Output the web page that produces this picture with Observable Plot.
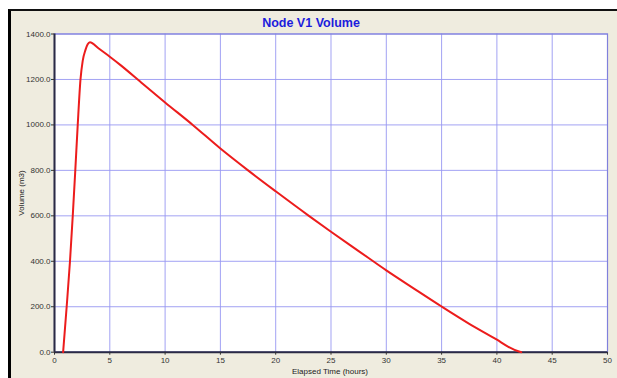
<!DOCTYPE html>
<html>
<head>
<meta charset="utf-8">
<script src="https://cdn.jsdelivr.net/npm/d3@7"></script>
<script src="https://cdn.jsdelivr.net/npm/@observablehq/plot@0.6"></script>
<style>
  html, body { margin: 0; padding: 0; background: #ffffff; }
  #wrap { position: relative; width: 617px; height: 378px; overflow: hidden; }
  #frame { position: absolute; left: 8px; top: 9px; right: 0; bottom: 0;
           background: #efecdf; border-left: 3px solid #000; border-top: 2px solid #111; }
  #chart { position: absolute; left: 0; top: 0; }
  .lbl { position: absolute; font-family: "Liberation Sans", Arial, sans-serif; white-space: nowrap; }
  #title { left: 311px; top: 23px; transform: translate(-50%, -50%); font-size: 12.5px; font-weight: bold; color: #1c1cdc; }
  #xlabel { left: 330px; top: 371px; transform: translate(-50%, -50%); font-size: 8px; color: #222; }
  #ylabel { left: 21px; top: 193px; transform: translate(-50%, -50%) rotate(-90deg); font-size: 8px; color: #222; }
</style>
</head>
<body>
<div id="wrap">
  <div id="frame"></div>
  <div id="chart"></div>
  <div class="lbl" id="title">Node V1 Volume</div>
  <div class="lbl" id="xlabel">Elapsed Time (hours)</div>
  <div class="lbl" id="ylabel">Volume (m3)</div>
</div>
<script>
const timeHours = [0.78, 1.1, 1.4, 1.65, 1.88, 2.1, 2.35, 2.55, 2.8, 3.0, 3.2, 4, 5, 6, 8, 10, 12.5, 15, 17.5, 20, 23, 25, 27.5, 30, 32.5, 35, 37.5, 40, 41, 42, 42.2];
const volumeM3  = [0, 200, 400, 600, 800, 1000, 1200, 1282, 1330, 1355, 1364, 1336, 1300, 1262, 1180, 1099, 1000, 896, 800, 708, 600, 530, 445, 360, 280, 201, 125, 55, 25, 3, 0];
const xTicks = [0, 5, 10, 15, 20, 25, 30, 35, 40, 45, 50];
const yTicks = [0, 200, 400, 600, 800, 1000, 1200, 1400];

const data = timeHours.map((t, i) => ({t, v: volumeM3[i]}));

const chart = Plot.plot({
  width: 617,
  height: 378,
  marginLeft: 54,
  marginRight: 10,
  marginTop: 33.5,
  marginBottom: 26.3,
  style: {background: "transparent", fontFamily: "Liberation Sans, Arial, sans-serif", fontSize: "8px", color: "#333"},
  x: {domain: [0, 50]},
  y: {domain: [0, 1400]},
  marks: [
    Plot.frame({fill: "#ffffff", stroke: null}),
    Plot.gridX(xTicks, {stroke: "#9898f2", strokeOpacity: 0.9, strokeWidth: 1}),
    Plot.gridY(yTicks, {stroke: "#9898f2", strokeOpacity: 0.9, strokeWidth: 1}),
    Plot.frame({stroke: "#8080dc", strokeWidth: 1.2}),
    Plot.ruleX([0], {stroke: "#2a2a44", strokeWidth: 2}),
    Plot.ruleY([0], {stroke: "#2a2a44", strokeWidth: 2}),
    Plot.axisX({ticks: xTicks, tickSize: 3, tickPadding: 2, label: null, tickFormat: d => String(d)}),
    Plot.axisY({ticks: yTicks, tickSize: 3, tickPadding: 1, label: null, tickFormat: d => d.toFixed(1)}),
    Plot.line(data, {x: "t", y: "v", stroke: "#ec1c1c", strokeWidth: 2, curve: "monotone-x"})
  ]
});
document.getElementById("chart").appendChild(chart);
</script>
</body>
</html>
